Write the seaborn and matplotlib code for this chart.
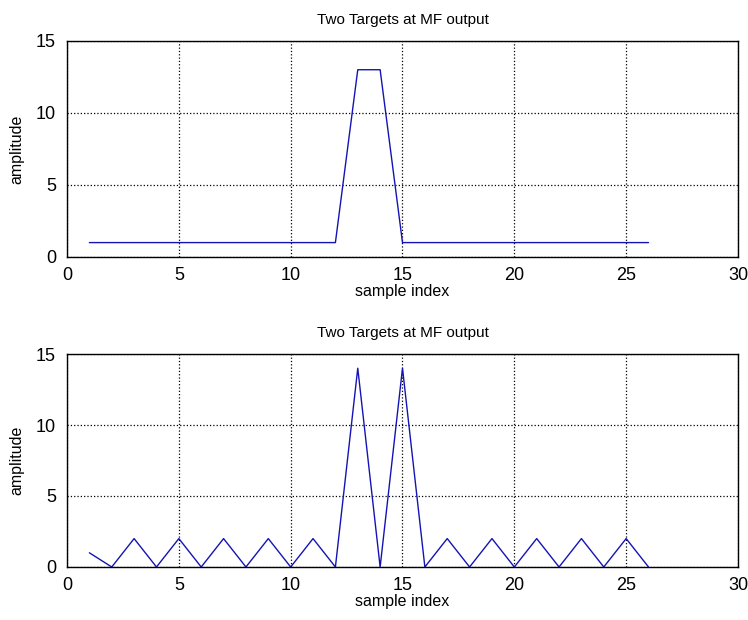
import pandas as pd
import matplotlib
matplotlib.use("Agg")
import matplotlib.pyplot as plt
import seaborn as sns

# sample values
sample_idx = list(range(1, 27))
mf_top = [1, 1, 1, 1, 1, 1, 1, 1, 1, 1, 1, 1, 13, 13, 1, 1, 1, 1, 1, 1, 1, 1, 1, 1, 1, 1]
mf_bottom = [1, 0, 2, 0, 2, 0, 2, 0, 2, 0, 2, 0, 14, 0, 14, 0, 2, 0, 2, 0, 2, 0, 2, 0, 2, 0]

x_ticks = [0, 5, 10, 15, 20, 25, 30]
y_ticks = [0, 5, 10, 15]
title_txt = "Two Targets at MF output"

sns.set_style("white")
plt.rcParams['font.family'] = ['Liberation Sans', 'DejaVu Sans']
plt.rcParams['text.color'] = 'black'
plt.rcParams['axes.labelcolor'] = 'black'

fig = plt.figure(figsize=(7.48, 6.20), dpi=100)
ax1 = fig.add_axes([0.0896, 0.5855, 0.897, 0.3485])
ax2 = fig.add_axes([0.0896, 0.0855, 0.897, 0.3435])

for ax, vals in [(ax1, mf_top), (ax2, mf_bottom)]:
    df = pd.DataFrame({"sample index": sample_idx, "amplitude": vals})
    sns.lineplot(data=df, x="sample index", y="amplitude", ax=ax, color="#1414b4", linewidth=1)
    ax.set_xlim(0, 30)
    ax.set_ylim(0, 15)
    ax.set_xticks(x_ticks)
    ax.set_yticks(y_ticks)
    ax.grid(True, linestyle=':', color='black', linewidth=0.9)
    ax.tick_params(direction='in', length=4, labelsize=13, colors='black')
    ax.tick_params(axis='x', pad=7)
    ax.tick_params(axis='y', pad=8)
    for s in ax.spines.values():
        s.set_color('black')
        s.set_linewidth(1)
    ax.set_title(title_txt, fontsize=11, pad=12, color='black')
    ax.set_xlabel("sample index", fontsize=11.5, labelpad=0, color='black')
    ax.set_ylabel("amplitude", fontsize=11.5, labelpad=8, color='black')

fig.savefig("out.png", dpi=100)
